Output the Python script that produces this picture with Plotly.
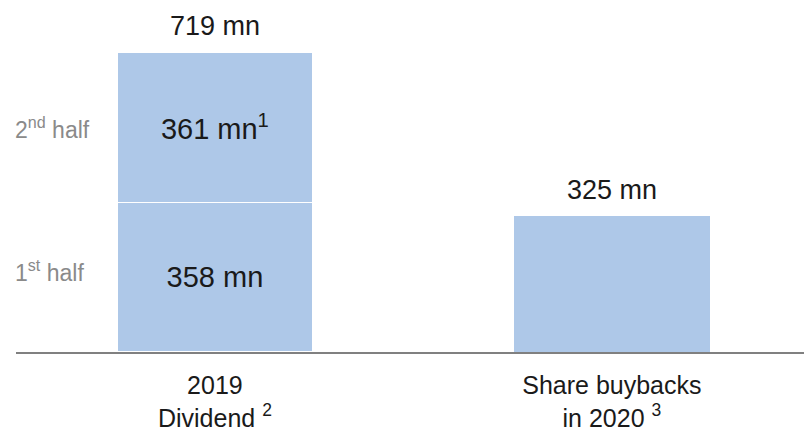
import plotly.graph_objects as go

# Category positions and labels
categories = [0, 1]
category_labels = ["2019<br>Dividend <sup>2</sup>", "Share buybacks<br>in 2020 <sup>3</sup>"]

# Dividend halves (mn) and buybacks (mn)
dividend_first_half = [358]
dividend_second_half = [361]
buybacks = [325]
second_half_note = "1"

dividend_total = dividend_first_half[0] + dividend_second_half[0]

BAR_COLOR = "#aec8e8"
TEXT_COLOR = "#1a1a1a"
FONT = "Liberation Sans, Arial, Helvetica, sans-serif"
BAR_WIDTH = 0.494

fig = go.Figure()

fig.add_trace(go.Bar(
    x=[categories[0]], y=dividend_first_half, width=BAR_WIDTH,
    marker=dict(color=BAR_COLOR, line=dict(color="white", width=1.5)),
    text=[f"{v} mn" for v in dividend_first_half],
    textposition="inside", insidetextanchor="middle",
    textfont=dict(size=29, color=TEXT_COLOR, family=FONT),
    hoverinfo="skip",
))
fig.add_trace(go.Bar(
    x=[categories[0]], y=dividend_second_half, width=BAR_WIDTH,
    marker=dict(color=BAR_COLOR, line=dict(color="white", width=1.5)),
    text=[f"{v} mn<sup>{second_half_note}</sup>" for v in dividend_second_half],
    textposition="inside", insidetextanchor="middle",
    textfont=dict(size=29, color=TEXT_COLOR, family=FONT),
    hoverinfo="skip",
))
fig.add_trace(go.Bar(
    x=[categories[1]], y=buybacks, width=BAR_WIDTH,
    marker=dict(color=BAR_COLOR, line=dict(color="white", width=0)),
    hoverinfo="skip",
))

# Totals above the bars
for xv, total in [(categories[0], dividend_total), (categories[1], buybacks[0])]:
    fig.add_annotation(
        x=xv, y=total, xref="x", yref="y", text=f"{total} mn",
        showarrow=False, yanchor="bottom", yshift=9,
        font=dict(size=27, color=TEXT_COLOR, family=FONT),
    )

# Segment names on the left
for yv, name, shift in [(dividend_first_half[0] / 2, "1<sup>st</sup> half", 6),
                        (dividend_first_half[0] + dividend_second_half[0] / 2, "2<sup>nd</sup> half", -1)]:
    fig.add_annotation(
        x=0.0, xref="paper", y=yv, yref="y", text=name,
        showarrow=False, xanchor="left", xshift=-3, yshift=shift,
        font=dict(size=23, color="#8a8a8a", family=FONT),
    )

fig.update_layout(
    barmode="stack",
    width=804, height=435,
    margin=dict(l=16, r=0, t=0, b=83),
    paper_bgcolor="white", plot_bgcolor="white",
    showlegend=False,
    xaxis=dict(
        range=[-0.501, 1.484],
        tickvals=categories, ticktext=category_labels,
        showline=True, linecolor="#808080", linewidth=2,
        showgrid=False, zeroline=False, ticks="",
        ticklabelstandoff=10,
        tickfont=dict(size=25, color=TEXT_COLOR, family=FONT),
        fixedrange=True,
    ),
    yaxis=dict(
        range=[0, 843.7], visible=False, showgrid=False, zeroline=False,
        fixedrange=True,
    ),
)

fig.write_html("out.html")
